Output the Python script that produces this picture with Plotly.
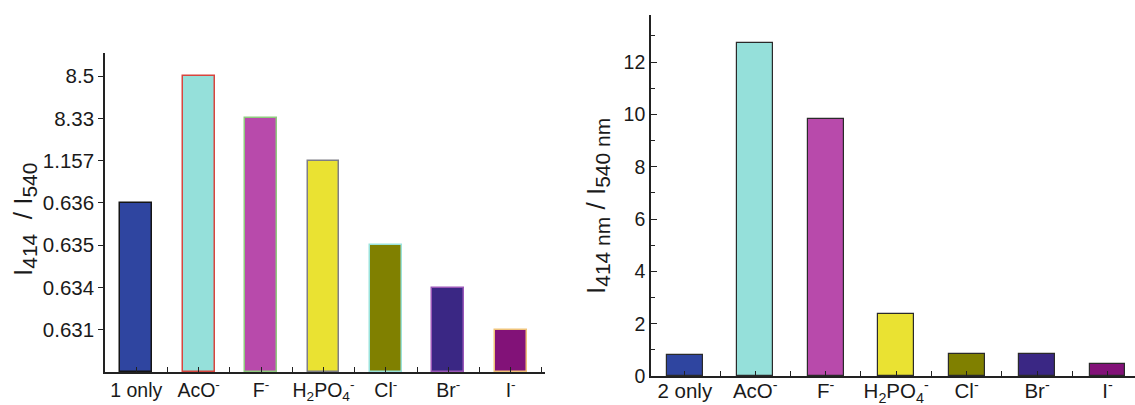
import plotly.graph_objects as go

# ---------------- data ----------------
left_categories = ["1 only", "AcO<sup>-</sup>", "F<sup>-</sup>",
                   "H<sub>2</sub>PO<sub>4</sub><sup>-</sup>", "Cl<sup>-</sup>",
                   "Br<sup>-</sup>", "I<sup>-</sup>"]
right_categories = ["2 only", "AcO<sup>-</sup>", "F<sup>-</sup>",
                    "H<sub>2</sub>PO<sub>4</sub><sup>-</sup>", "Cl<sup>-</sup>",
                    "Br<sup>-</sup>", "I<sup>-</sup>"]

# left panel: values printed on a non-linear (ordinal) axis
left_tick_labels = ["0.631", "0.634", "0.635", "0.636", "1.157", "8.33", "8.5"]
left_values = ["0.636", "8.5", "8.33", "1.157", "0.635", "0.634", "0.631"]

# right panel
right_values = [0.82, 12.74, 9.81, 2.37, 0.84, 0.84, 0.45]
right_ticks = [0, 2, 4, 6, 8, 10, 12]

bar_colors = ["#2F45A0", "#95E0DA", "#B84AAB", "#EAE232", "#808000", "#3A2784", "#821278"]
left_outline = ["#151515", "#D8453E", "#8FCB7E", "#7F7F85", "#9BE3DC", "#9A58B8", "#F0C47A"]

# ---------------- figure ----------------
FONT = "Liberation Sans, Arial, Helvetica, sans-serif"
W, H = 1135, 405

left_pos = [left_tick_labels.index(v) + 1 for v in left_values]
xl = list(range(len(left_categories)))
xr = list(range(len(right_categories)))

fig = go.Figure()
fig.add_trace(go.Bar(
    x=xl, y=left_pos, width=0.51,
    marker=dict(color=bar_colors, line=dict(color=left_outline, width=1.5)),
    xaxis="x", yaxis="y", showlegend=False, hoverinfo="skip",
))
fig.add_trace(go.Bar(
    x=xr, y=right_values, width=0.51,
    marker=dict(color=bar_colors, line=dict(color="#2a2a2a", width=1.2)),
    xaxis="x2", yaxis="y2", showlegend=False, hoverinfo="skip",
))

axis_common = dict(showline=True, linecolor="#222", linewidth=1.6, automargin=False,
                   showgrid=False, zeroline=False, mirror=False)

SUB = "<sub><span style='font-size:21px'>{}</span></sub>"

fig.update_layout(
    width=W, height=H,
    margin=dict(l=0, r=0, t=0, b=0, autoexpand=False),
    paper_bgcolor="white", plot_bgcolor="white",
    font=dict(family=FONT, color="#1a1a1a"),
    bargap=0,
    xaxis=dict(
        domain=[105 / W, 545 / W], range=[-0.5, 6.55],
        tickmode="array", tickvals=xl, ticktext=left_categories,
        ticks="inside", ticklen=5, tickwidth=1.3, tickcolor="#222",
        minor=dict(ticks="inside", tickmode="array",
                   tickvals=[i + 0.5 for i in xl], ticklen=5, tickwidth=1.3, tickcolor="#222"),
        tickfont=dict(size=19.5), anchor="y", **axis_common,
    ),
    yaxis=dict(
        domain=[1 - 372 / H, 1 - 53 / H], range=[0, 7.55],
        tickmode="array", tickvals=list(range(1, len(left_tick_labels) + 1)),
        ticktext=left_tick_labels,
        ticks="outside", ticklen=5, tickwidth=1.3, tickcolor="#222",
        tickfont=dict(size=20.5), anchor="x", **axis_common,
    ),
    xaxis2=dict(
        domain=[651 / W, 1.0], range=[-0.48, 6.39],
        tickmode="array", tickvals=xr, ticktext=right_categories,
        ticks="inside", ticklen=5, tickwidth=1.3, tickcolor="#222",
        minor=dict(ticks="inside", tickmode="array",
                   tickvals=[i + 0.5 for i in xr], ticklen=5, tickwidth=1.3, tickcolor="#222"),
        tickfont=dict(size=20.5), ticklabelstandoff=-4, anchor="y2", **axis_common,
    ),
    yaxis2=dict(
        domain=[1 - 376 / H, 1 - 15 / H], range=[0, 13.8],
        tickmode="array", tickvals=right_ticks,
        ticks="inside", ticklen=6, tickwidth=1.3, tickcolor="#222",
        minor=dict(ticks="inside", tickmode="array",
                   tickvals=[t + 1 for t in right_ticks], ticklen=4, tickwidth=1.3, tickcolor="#222"),
        tickfont=dict(size=19.5), anchor="x2", **axis_common,
    ),
    annotations=[
        dict(text="I" + SUB.format("414") + "  / I" + SUB.format("540"), textangle=-90,
             x=24 / W, y=1 - 220 / H, xref="paper", yref="paper",
             xanchor="center", yanchor="middle", showarrow=False,
             font=dict(size=26, family=FONT, color="#1a1a1a")),
        dict(text="I" + SUB.format("414 nm") + " / I" + SUB.format("540 nm"), textangle=-90,
             x=597 / W, y=1 - 206 / H, xref="paper", yref="paper",
             xanchor="center", yanchor="middle", showarrow=False,
             font=dict(size=26, family=FONT, color="#1a1a1a")),
    ],
)

fig.write_html("out.html", config={"displayModeBar": False},
               post_script="document.body.style.margin='0';")
